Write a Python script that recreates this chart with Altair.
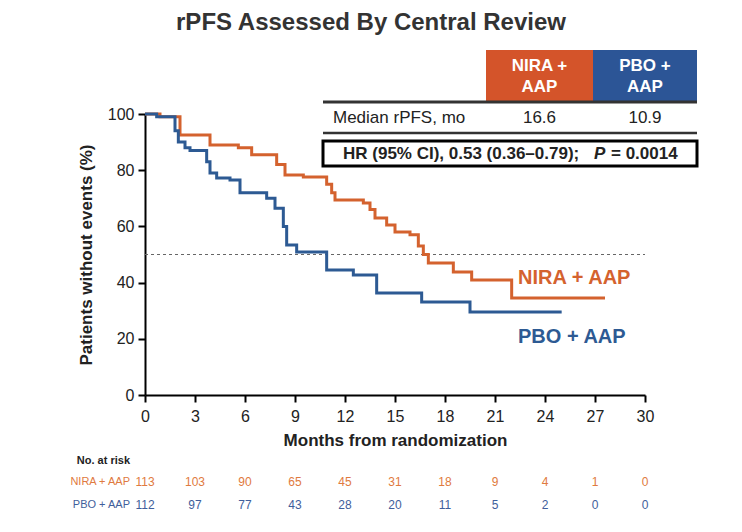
import altair as alt
import pandas as pd

# ---------------- data ----------------
months = [0, 3, 6, 9, 12, 15, 18, 21, 24, 27, 30]
nira_at_risk = [113, 103, 90, 65, 45, 31, 18, 9, 4, 1, 0]
pbo_at_risk = [112, 97, 77, 43, 28, 20, 11, 5, 2, 0, 0]

nira_time = [0, 0.9, 2.1, 3.9, 5.6, 6.4, 7.9, 8.4, 9.5, 10.9, 11.2, 11.4, 13.1, 13.5,
             13.8, 14.5, 15.0, 15.9, 16.4, 16.7, 17.0, 18.5, 19.6, 22.0, 27.6]
nira_surv = [100, 99, 92.5, 89, 88, 85.5, 82, 78.3, 77.6, 75, 72, 69.4, 68.3, 66,
             63, 60.5, 58, 57, 53, 50, 47, 43.8, 40.9, 34.5, 34.5]

pbo_time = [0, 0.7, 1.8, 2.0, 2.4, 2.7, 3.7, 3.9, 4.3, 5.1, 5.7, 7.3, 7.8, 8.3, 8.5,
            9.1, 10.9, 12.5, 13.9, 16.6, 19.5, 25.0]
pbo_surv = [100, 99, 94, 90, 88, 87, 83, 79, 77.2, 76.5, 72, 70, 66.5, 60, 53.4,
            50.9, 44.5, 42.7, 36.3, 33.1, 29.5, 29.5]

arms = ["NIRA + AAP", "PBO + AAP"]
medians = ["16.6", "10.9"]
y_ticks = [0, 20, 40, 60, 80, 100]
median_ref = [50]

FONT = "Liberation Sans, Arial, Helvetica, sans-serif"
ORANGE = "#D4622E"
BLUE = "#2D5A93"
HEAD_OR = "#D4542A"
HEAD_BL = "#2C5596"
RISK_OR = "#DF7A40"
RISK_BL = "#3F5E9B"

km = pd.concat([
    pd.DataFrame({"t": nira_time, "s": nira_surv, "arm": arms[0]}),
    pd.DataFrame({"t": pbo_time, "s": pbo_surv, "arm": arms[1]}),
])

xs = alt.Scale(domain=[0, 30], nice=False, zero=False)
ys = alt.Scale(domain=[0, 100], nice=False)
X_AX = alt.Axis(values=months, title="Months from randomization",
                labelPadding=6, titlePadding=8, format="d", labelFlush=False)
Y_AX = alt.Axis(values=y_ticks, title="Patients without events (%)",
                labelPadding=4, titlePadding=12, format="d", labelFlush=False)

dummy = pd.DataFrame({"a": [0]})


def txt(text, x, y, size=16, weight="normal", color="#222", align="center", style="normal"):
    return alt.Chart(dummy).mark_text(
        text=text, font=FONT, fontSize=size, fontWeight=weight, color=color,
        align=align, baseline="middle", fontStyle=style
    ).encode(x=alt.value(x), y=alt.value(y))


def box(x, x2, y, y2, **kw):
    return alt.Chart(dummy).mark_rect(**kw).encode(
        x=alt.value(x), x2=alt.value(x2), y=alt.value(y), y2=alt.value(y2))


def hline(x, x2, y, width=2.5, color="#333"):
    return alt.Chart(dummy).mark_rule(strokeWidth=width, color=color).encode(
        x=alt.value(x), x2=alt.value(x2), y=alt.value(y))


ref = alt.Chart(pd.DataFrame({"s": median_ref, "t": [0], "t2": [30]})).mark_rule(
    strokeDash=[3, 3], color="#666", strokeWidth=1
).encode(
    x=alt.X("t:Q", scale=xs, axis=X_AX),
    x2="t2:Q",
    y=alt.Y("s:Q", scale=ys, axis=Y_AX),
)

curves = alt.Chart(km).mark_line(interpolate="step-after", strokeWidth=3).encode(
    x=alt.X("t:Q", scale=xs, axis=X_AX),
    y=alt.Y("s:Q", scale=ys, axis=Y_AX),
    color=alt.Color("arm:N", scale=alt.Scale(domain=arms, range=[ORANGE, BLUE]), legend=None),
)

risk_df = pd.DataFrame({"t": months + months,
                        "n": nira_at_risk + pbo_at_risk,
                        "arm": [arms[0]] * len(months) + [arms[1]] * len(months)})

risk_nira = alt.Chart(risk_df[risk_df.arm == arms[0]]).mark_text(
    font=FONT, fontSize=12, color=RISK_OR, baseline="middle"
).encode(x=alt.X("t:Q", scale=xs, axis=X_AX), y=alt.value(368), text="n:Q")

risk_pbo = alt.Chart(risk_df[risk_df.arm == arms[1]]).mark_text(
    font=FONT, fontSize=12, color=RISK_BL, baseline="middle"
).encode(x=alt.X("t:Q", scale=xs, axis=X_AX), y=alt.value(391), text="n:Q")

layers = [
    ref,
    curves,
    risk_nira,
    risk_pbo,
    txt("No. at risk", -15, 347, size=11, weight="bold", align="right"),
    txt(arms[0], -15, 368, size=11, color=RISK_OR, align="right"),
    txt(arms[1], -15, 391, size=11, color=RISK_BL, align="right"),
    txt("rPFS Assessed By Central Review", 226, -91, size=24, weight="bold", color="#333"),
    txt(arms[0], 373, 164, size=20, weight="bold", color=ORANGE, align="left"),
    txt(arms[1], 373, 223, size=20, weight="bold", color=BLUE, align="left"),
    box(341, 448, -64, -12, color=HEAD_OR),
    box(448, 552, -64, -12, color=HEAD_BL),
    txt("NIRA +", 394.5, -48, size=17, weight="bold", color="white"),
    txt("AAP", 394.5, -27, size=17, weight="bold", color="white"),
    txt("PBO +", 500, -48, size=17, weight="bold", color="white"),
    txt("AAP", 500, -27, size=17, weight="bold", color="white"),
    hline(178, 552, -12, width=3),
    txt("Median rPFS, mo", 188, 4, size=17, color="#222", align="left"),
    txt(medians[0], 394.5, 4, size=17, color="#222"),
    txt(medians[1], 500, 4, size=17, color="#222"),
    hline(178, 552, 19, width=2.5),
    box(178, 552, 27, 52, fillOpacity=0, stroke="black", strokeWidth=3),
    txt("HR (95% CI), 0.53 (0.36\u20130.79);", 198, 39.5, size=17, weight="bold", align="left"),
    txt("P", 449, 39.5, size=17, weight="bold", align="left", style="italic"),
    txt("= 0.0014", 466, 39.5, size=17, weight="bold", align="left"),
]

chart = alt.layer(*layers).properties(
    width=500, height=281,
    autosize=alt.AutoSizeParams(type="none"),
    padding={"left": 137, "top": 106, "right": 85, "bottom": 125},
).configure_axis(
    domainColor="black", domainWidth=2, tickColor="black", tickWidth=2, tickSize=7,
    labelFont=FONT, labelFontSize=16, labelColor="#222",
    titleFont=FONT, titleFontSize=17, titleFontWeight="bold", titleColor="#222",
    grid=False,
).configure_view(stroke="transparent")

chart.save("out.html", embed_options={"renderer": "svg", "actions": False})
